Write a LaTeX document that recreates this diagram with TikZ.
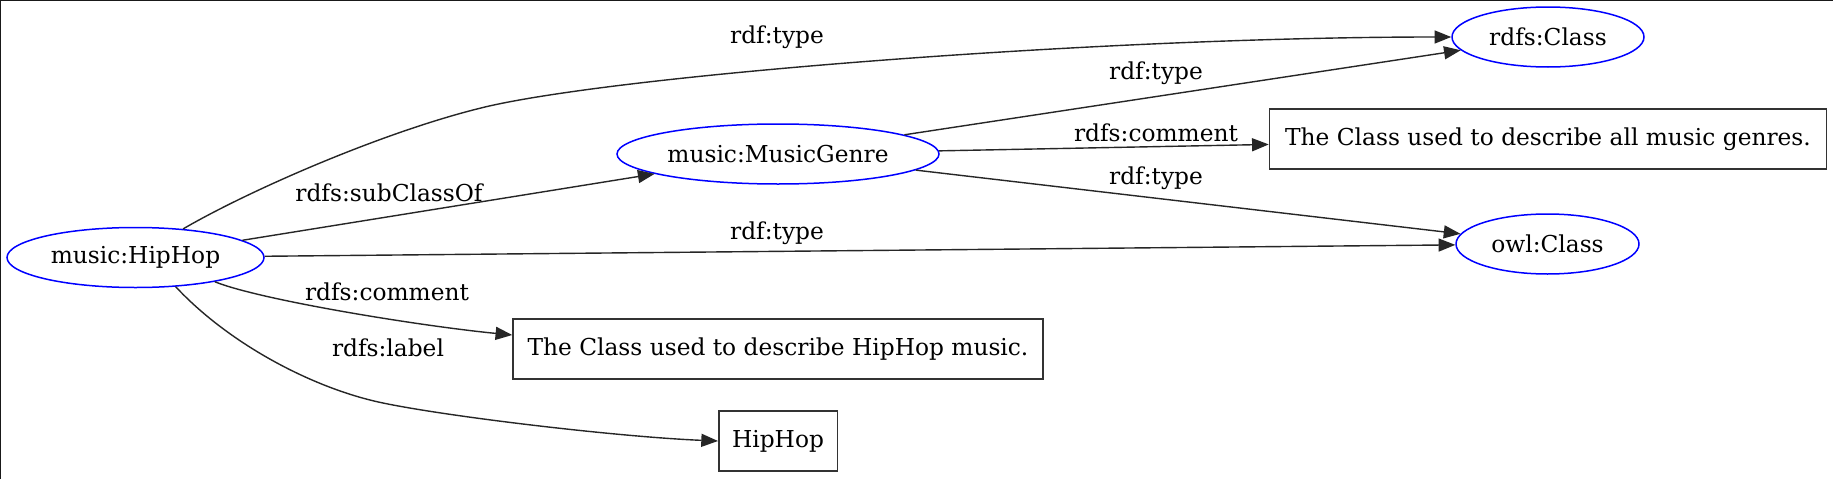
\documentclass[tikz,border=0pt]{standalone}
\usepackage{fontspec}
\setmainfont{DejaVu Serif}
\usetikzlibrary{arrows.meta,shapes.geometric}
\begin{document}
\begin{tikzpicture}[x=1pt,y=-1pt,
  every node/.style={font=\fontsize{23.3}{28}\selectfont},
  cls/.style={ellipse, draw=blue, line width=1.5pt, minimum height=60pt, inner sep=0pt},
  lit/.style={rectangle, draw=black!80, line width=1.5pt, minimum height=60pt, inner sep=0pt},
  conn/.style={-{Triangle[length=16.7pt,width=13pt]}, line width=1.4pt, black!85},
  lbl/.style={inner sep=0pt}
]
\useasboundingbox (0,0) rectangle (1833,479);
\fill[white] (0,0) rectangle (1833,479);
\draw[line width=2pt, black!90] (0,479) -- (0,0) -- (1833,0);

% nodes
\node[cls, minimum width=257pt] (hiphop) at (135.5,257.5) {music:HipHop};
\node[cls, minimum width=322pt] (genre) at (778,154) {music:MusicGenre};
\node[cls, minimum width=192pt] (rdfscls) at (1548,37) {rdfs:Class};
\node[cls, minimum width=183pt] (owlcls) at (1547.5,244) {owl:Class};
\node[lit, minimum width=557pt] (gcomment) at (1548,139) {The Class used to describe all music genres.};
\node[lit, minimum width=530pt] (hcomment) at (778,349) {The Class used to describe HipHop music.};
\node[lit, minimum width=118.5pt] (hlabel) at (778,441) {HipHop};

% edge labels
\node[lbl] (l1) at (777,37) {rdf:type};
\node[lbl] (l2) at (1156,73) {rdf:type};
\node[lbl] (l3) at (1156,133) {rdfs:comment};
\node[lbl] (l4) at (1156,178) {rdf:type};
\node[lbl] (l5) at (389,193) {rdfs:subClassOf};
\node[lbl] (l6) at (777,233) {rdf:type};
\node[lbl] (l7) at (387,292) {rdfs:comment};
\node[lbl] (l8) at (388,348) {rdfs:label};

% edges
\draw[conn] (hiphop.31) .. controls (250,190) and (385,131) .. (485,107)
  .. controls (620,75) and (1100,37) .. (rdfscls.west);
\draw[conn] (hiphop) -- (genre);
\draw[conn] (hiphop) -- (owlcls);
\draw[conn] (hiphop.-17) .. controls (260,300) and (420,326) .. ([yshift=14pt]hcomment.west);
\draw[conn] (hiphop.-36) .. controls (230,345) and (315,389) .. (383,403)
  .. controls (450,417) and (620,437) .. (hlabel.west);
\draw[conn] (genre) -- (rdfscls);
\draw[conn] (genre) -- (gcomment);
\draw[conn] (genre) -- (owlcls);
\end{tikzpicture}
\end{document}
